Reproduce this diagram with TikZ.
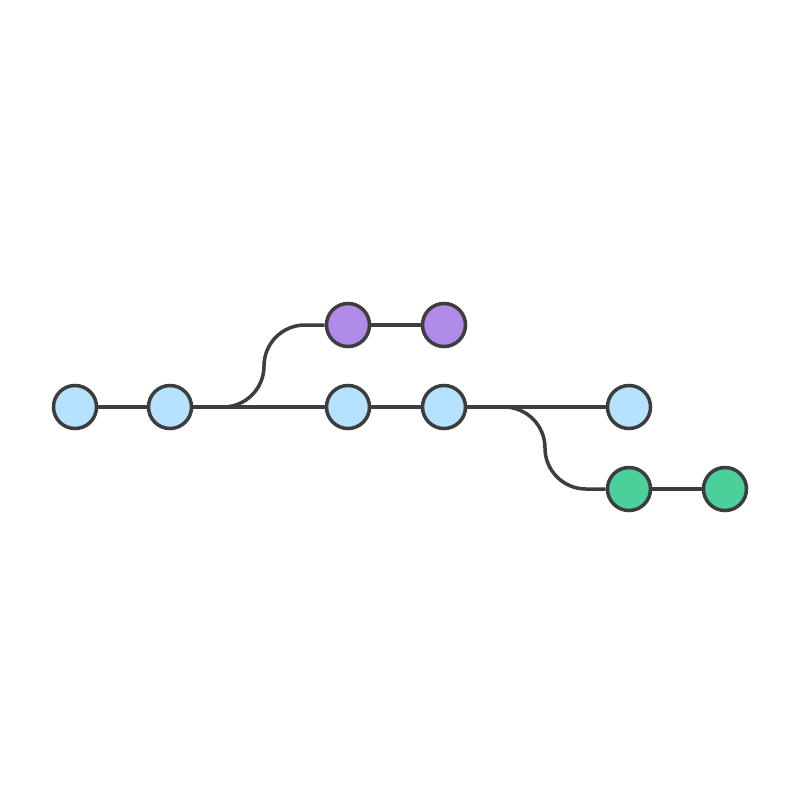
\documentclass[tikz,border=0pt]{standalone}
\definecolor{edgec}{HTML}{3D3D3D}
\definecolor{bluec}{HTML}{B5E2FF}
\definecolor{purplec}{HTML}{B08AE8}
\definecolor{greenc}{HTML}{4BD09C}
\begin{document}
\begin{tikzpicture}[x=0.01cm,y=-0.01cm,
  commit/.style={circle,draw=edgec,line width=0.035cm,minimum size=0.43cm,inner sep=0pt},
  link/.style={draw=edgec,line width=0.035cm},
  branchlink/.style={link,rounded corners=0.41cm}]
\fill[white] (0,0) rectangle (800,800);
\useasboundingbox (0,0) rectangle (800,800);
\coordinate (k1) at (264,407);
\coordinate (k2) at (545,407);
\node[commit,fill=bluec] (a1) at (75,407) {};
\node[commit,fill=bluec] (a2) at (170,407) {};
\node[commit,fill=bluec] (a3) at (348,407) {};
\node[commit,fill=bluec] (a4) at (444,407) {};
\node[commit,fill=bluec] (a5) at (629,407) {};
\node[commit,fill=purplec] (p1) at (348,325) {};
\node[commit,fill=purplec] (p2) at (444,325) {};
\node[commit,fill=greenc] (g1) at (629,489) {};
\node[commit,fill=greenc] (g2) at (725,489) {};
\draw[link] (a1) -- (a2);
\draw[link] (a2) -- (a3);
\draw[link] (a3) -- (a4);
\draw[link] (a4) -- (a5);
\draw[link] (p1) -- (p2);
\draw[link] (g1) -- (g2);
\draw[branchlink] (a2.east) -- (k1) |- (p1.west);
\draw[branchlink] (a4.east) -- (k2) |- (g1.west);
\end{tikzpicture}
\end{document}
